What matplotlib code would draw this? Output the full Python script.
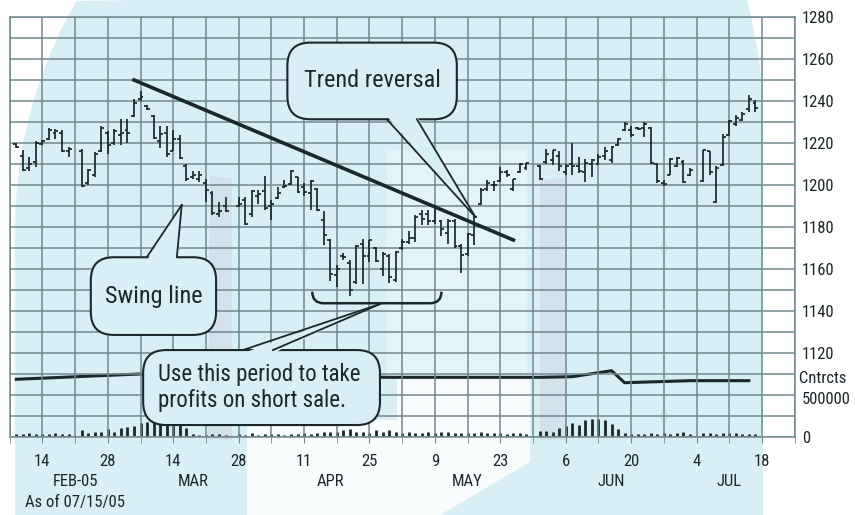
import numpy as np
import pandas as pd
import matplotlib.pyplot as plt
from matplotlib.patches import FancyBboxPatch, Polygon, PathPatch
from matplotlib.path import Path
import matplotlib.transforms as mtransforms

plt.rcParams['font.family'] = ['Roboto Condensed', 'DejaVu Sans']

# trading days shown (Feb 8 - Jul 15, 2005), market holidays removed
holidays = ['2005-02-21', '2005-03-25', '2005-05-30', '2005-07-04']
days = pd.bdate_range('2005-02-08', '2005-07-15')
days = days[~days.isin(pd.to_datetime(holidays))]

# daily price bars, one row per week
high = [1220, 1216.5, 1213.5, 1221,
        1221.5, 1227, 1226.5, 1226, 1218,
        1217, 1207.5, 1215.5, 1228,
        1225.5, 1226.5, 1231.5, 1231.5, 1241,
        1245, 1238, 1233.5, 1228, 1228,
        1226, 1224, 1210, 1206.5, 1206.5,
        1203, 1197, 1192, 1194.5,
        1194.5, 1194.5, 1197.5, 1197.5, 1204.5,
        1193, 1199, 1202.5, 1207, 1204,
        1201, 1202.5, 1198.5, 1187.5, 1174.5,
        1162, 1167.5, 1164.5, 1171.5, 1174.5,
        1174, 1170.5, 1168, 1167, 1168.5,
        1174.5, 1178, 1185.5, 1188, 1188,
        1190, 1183.5, 1184, 1184, 1172,
        1177, 1185.5, 1198.5, 1202.5, 1202,
        1208.5, 1207, 1203, 1210.5, 1210.5,
        1209.5, 1217, 1216.5, 1216,
        1210, 1220, 1213.5, 1212.5, 1212.5,
        1215, 1218, 1218.5, 1222.5, 1230,
        1228, 1227.5, 1230, 1227.5, 1210.5,
        1202.5, 1213, 1213.5, 1212, 1208,
        1216.5, 1216, 1209, 1224.5,
        1231, 1233.5, 1235, 1243, 1240.5]
low = [1217.5, 1206.5, 1206.5, 1208.5,
       1219, 1221.5, 1222, 1215.5, 1213.5,
       1199, 1200, 1204, 1215.5,
       1215, 1219, 1219, 1220, 1232.5,
       1240, 1235.5, 1222, 1217.5, 1213.5,
       1216, 1212.5, 1202, 1203, 1201.5,
       1192, 1185.5, 1185, 1187,
       1189.5, 1181, 1185, 1191, 1188,
       1183.5, 1193.5, 1198.5, 1200, 1196,
       1195, 1188, 1187.5, 1171.5, 1154.5,
       1151.5, 1164.5, 1147, 1153, 1153,
       1163.5, 1163.5, 1156.5, 1153.5, 1154,
       1169, 1172, 1173, 1181, 1181,
       1181.5, 1175.5, 1172, 1170, 1158,
       1166, 1171.5, 1190.5, 1197, 1197,
       1201.5, 1204, 1197, 1205.5, 1207,
       1202.5, 1210, 1209.5, 1206.5,
       1205, 1205, 1205.5, 1201.5, 1204,
       1209.5, 1212, 1210.5, 1218.5, 1225.5,
       1223, 1226, 1223, 1210, 1201,
       1199.5, 1205, 1208.5, 1201, 1204.5,
       1201.5, 1205, 1191.5, 1209,
       1223.5, 1228, 1230.5, 1235, 1235]
opn = [1219.5, 1214, 1208, 1211,
       1219.5, 1222, 1225, 1225, 1216,
       1216, 1201, 1205, 1216,
       1225, 1220, 1224, 1226, 1233,
       1241, 1237.5, 1233, 1221, 1225,
       1216, 1222, 1209, 1204, 1203,
       1201, 1196, 1186, 1190,
       1190, 1193, 1186, 1195, 1197,
       1190, 1194, 1199, 1200.5, 1204,
       1199, 1196, 1198, 1183.5, 1174,
       1157, 1166, 1163, 1154, 1172,
       1166, 1170, 1160, 1166, 1155,
       1170, 1173, 1175, 1186, 1186,
       1183, 1183, 1177, 1183, 1171,
       1167, 1176, 1191, 1198, 1200,
       1202, 1206, 1198, 1206, 1208,
       1209, 1211, 1212, 1214,
       1206, 1210, 1209, 1206, 1210,
       1210, 1214, 1212, 1219, 1226,
       1226, 1227, 1227, 1227, 1210,
       1201, 1205, 1209, 1211, 1205,
       1202, 1216, 1192, 1209.5,
       1224, 1229, 1231, 1236, 1239]
close = [1218, 1207, 1210, 1220,
         1221, 1226, 1225.5, 1216, 1217,
         1199.5, 1207, 1215, 1227,
         1219, 1225.5, 1225, 1225, 1239,
         1242, 1236, 1222.5, 1224.5, 1215,
         1222, 1213, 1203, 1205, 1205,
         1197.5, 1186.5, 1187.5, 1187.5,
         1191, 1181.5, 1197, 1195.5, 1189,
         1191, 1196, 1199.5, 1206.5, 1196.5,
         1196.5, 1202, 1188, 1176, 1157.5,
         1160, 1165.5, 1150, 1171, 1166,
         1174, 1164, 1167, 1156, 1168,
         1173, 1175, 1185, 1184, 1183,
         1189, 1179, 1183, 1171, 1166.5,
         1176.5, 1185, 1197.5, 1201, 1200,
         1206, 1205, 1203, 1210, 1210.5,
         1203, 1215, 1216.5, 1209,
         1209, 1209, 1206.5, 1210.5, 1212,
         1213.5, 1216, 1218, 1222, 1229,
         1224, 1226.5, 1229, 1210.5, 1202,
         1200.5, 1212.5, 1213, 1201.5, 1207,
         1216.5, 1206, 1208, 1223,
         1230.5, 1232, 1234, 1241, 1236.5]
volume = [40000, 35000, 45000, 40000,
          40000, 35000, 45000, 40000, 35000,
          95000, 55000, 65000, 60000,
          100000, 70000, 110000, 130000, 140000,
          180000, 195000, 195000, 190000, 185000,
          175000, 160000, 120000, 40000, 30000,
          30000, 40000, 35000, 30000,
          35000, 30000, 45000, 30000, 35000,
          40000, 35000, 30000, 40000, 35000,
          45000, 40000, 50000, 65000, 70000,
          60000, 90000, 100000, 60000, 70000,
          55000, 90000, 70000, 95000, 65000,
          50000, 60000, 55000, 45000, 65000,
          50000, 65000, 60000, 45000, 55000,
          50000, 45000, 60000, 50000, 55000,
          55000, 40000, 50000, 45000, 40000,
          75000, 75000, 65000, 110000,
          140000, 180000, 155000, 215000, 230000,
          230000, 220000, 165000, 100000, 50000,
          35000, 40000, 40000, 45000, 40000,
          45000, 40000, 50000, 60000, 40000,
          50000, 45000, 40000, 55000,
          45000, 50000, 40000, 40000, 35000]

# open interest line
oi_dates = ['2005-02-08', '2005-03-07', '2005-04-28', '2005-05-31', '2005-06-07',
            '2005-06-15', '2005-06-17', '2005-07-01', '2005-07-14']
oi_values = [740000, 808000, 765000, 765000, 773000, 850000, 696000, 722000, 722000]

day_labels = ['14', '28', '14', '28', '11', '25', '9', '23', '6', '20', '4', '18']
month_labels = ['FEB-05', 'MAR', 'APR', 'MAY', 'JUN', 'JUL']
month_dates = ['2005-02-21', '2005-03-17', '2005-04-15', '2005-05-16', '2005-06-15', '2005-07-11']

start = pd.Timestamp('2005-02-07')


def xpos(d):
    # weeks since Feb 7, each trading day takes a fifth of a week
    n = (pd.to_datetime(d) - start).days
    return np.asarray(n // 7 + (n % 7) / 5.0, dtype=float)


x = xpos(days)

BG = '#d7eff5'
GRID = '#72898e'
INK = '#1b272b'
FS = 12

fig = plt.figure(figsize=(8.55, 5.15), dpi=100)
W, H = 855.0, 515.0


def backdrop(pts, **kw):
    # decorative watermark shapes, given in picture pixels
    xy = [(px / W, 1 - py / H) for px, py in pts]
    fig.patches.append(Polygon(xy, closed=True, transform=fig.transFigure, ec='none', **kw))


# light cyan backdrop with faint watermark behind the grid
t = np.linspace(np.pi, 1.5 * np.pi, 40)
left_arc = [(15 + 458 + 458 * np.cos(a), 230 + 458 * np.sin(a)) for a in t]
t2 = np.linspace(-0.27 * np.pi, 0, 30)
right_arc = [(763 - 450 + 450 * np.cos(a), 120 + 450 * np.sin(a)) for a in t2]
shape = [(15, 515)] + [p for p in left_arc if p[1] > -10] + \
        [p for p in right_arc if p[1] > -10] + [(763, 515)]
backdrop(shape, fc=BG, zorder=-5)
backdrop([(210, 176), (232, 178), (232, 440), (208, 440)], fc='#c9a9c4', alpha=0.2, zorder=-4)
backdrop([(540, 180), (564, 178), (567, 440), (540, 440)], fc='#c9a9c4', alpha=0.2, zorder=-4)
backdrop([(387, 150), (527, 150), (527, 377), (387, 377)], fc='white', alpha=0.3, zorder=-3)
backdrop([(247, 420), (397, 420), (397, 377), (530, 377), (530, 462), (440, 515), (247, 515)],
         fc='white', alpha=0.85, zorder=-2)

ax = fig.add_axes([9.7 / W, 1 - 437 / H, 785 / W, 420 / H])
ax2 = ax.twinx()
ax.set_zorder(2)
ax2.set_zorder(1)
ax.set_facecolor('none')
ax2.set_facecolor('none')
ax.set_xlim(0, 24)
ax.set_ylim(1080, 1280)

ax.set_xticks(np.arange(1, 24, 2))
ax.set_xticklabels(day_labels)
ax.set_xticks(np.arange(0, 25), minor=True)
ax.set_yticks(np.arange(1120, 1281, 20))
ax.set_yticks(np.arange(1080, 1281, 10), minor=True)
ax.yaxis.tick_right()
ax.grid(which='both', color=GRID, lw=1.1)
for s in ax.spines.values():
    s.set_color(GRID)
    s.set_linewidth(1.1)
ax.tick_params(axis='x', which='both', length=4, color=GRID, pad=8, labelsize=FS, labelcolor=INK)
ax.tick_params(axis='y', which='both', length=0, pad=5, labelsize=FS, labelcolor=INK)

# price bars
ax.vlines(x, low, high, color=INK, lw=1.25, zorder=3)
ax.hlines(opn, x - 0.09, x, color=INK, lw=1.25, zorder=3)
ax.hlines(close, x, x + 0.09, color=INK, lw=1.25, zorder=3)

# volume and open interest on their own scale in the bottom strip
ax2.set_ylim(0, 500000 * 420 / 39.0)
ax2.set_yticks([0, 500000])
ax2.set_yticklabels(['0', '500000'])
ax2.tick_params(axis='y', length=0, pad=5, labelsize=FS, labelcolor=INK)
for s in ax2.spines.values():
    s.set_visible(False)
ax2.vlines(x, 0, volume, color=INK, lw=2.0, zorder=3)
ax2.plot(xpos(oi_dates), oi_values, color=INK, lw=2.2, zorder=3)
ax2.text(1.0, 0.14, ' Cntrcts', transform=ax2.transAxes, fontsize=FS, color=INK,
         va='center', ha='left')

# month names and date stamp under the axis
tr = mtransforms.blended_transform_factory(ax.transData, ax.transAxes)
for lab, d in zip(month_labels, month_dates):
    ax.text(xpos(d), -0.106, lab, transform=tr, ha='center', va='center', fontsize=FS, color=INK)
ax.text(xpos('2005-02-21'), -0.157, 'As of 07/15/05', transform=tr, ha='center', va='center',
        fontsize=FS, color=INK)

# trend line from the March high
ax.plot(xpos(['2005-03-04', '2005-05-25']), [1250, 1173.8], color=INK, lw=2.6, zorder=4)

# bracket under the April low
bx0, bx1 = xpos('2005-04-12') + 0.05, xpos('2005-05-10')
by0, by1 = 1149.2, 1143.7
verts = [(bx0, by0), (bx0, by1), (bx0 + 0.35, by1), (bx1 - 0.35, by1),
         (bx1, by1), (bx1, by0)]
codes = [Path.MOVETO, Path.CURVE3, Path.CURVE3, Path.LINETO, Path.CURVE3, Path.CURVE3]
ax.add_patch(PathPatch(Path(verts, codes), fc='none', ec=INK, lw=1.8, zorder=4))

asp = (785 / 24.0) / (420 / 200.0)  # price units per week, keeps corners round


def callout(x0, x1, y0, y1, b0, b1, tip, text, fs=17.5, **kw):
    box = FancyBboxPatch((x0, y0), x1 - x0, y1 - y0,
                         boxstyle='round,pad=0,rounding_size=0.7', mutation_aspect=asp,
                         fc=BG, ec=INK, lw=1.5, zorder=6)
    ax.add_patch(box)
    base = y0 if tip[1] < y0 else y1
    inset = 1.5 if base == y0 else -1.5
    ax.add_patch(Polygon([(b0, base + inset), (b1, base + inset), tip], closed=True,
                         fc=BG, ec='none', zorder=7))
    for b in (b0, b1):
        ax.plot([b, tip[0]], [base, tip[1]], color=INK, lw=1.3, zorder=7)
    ax.text(kw.pop('tx', (x0 + x1) / 2), (y0 + y1) / 2, text, fontsize=fs, color=INK,
            va='center', zorder=8, **kw)


callout(8.49, 13.67, 1231.3, 1267.8, 11.53, 12.45, (14.23, 1184.9), 'Trend reversal', ha='center')
callout(2.48, 6.31, 1128.6, 1165.6, 4.19, 5.11, (5.26, 1190.5), 'Swing line', ha='center')
callout(4.08, 11.32, 1085.7, 1121.4, 7.13, 8.05, (11.32, 1143.3),
        'Use this period to take\nprofits on short sale.', fs=16.5, ha='left', tx=4.52,
        linespacing=1.2)

fig.savefig('out.png', dpi=100)
